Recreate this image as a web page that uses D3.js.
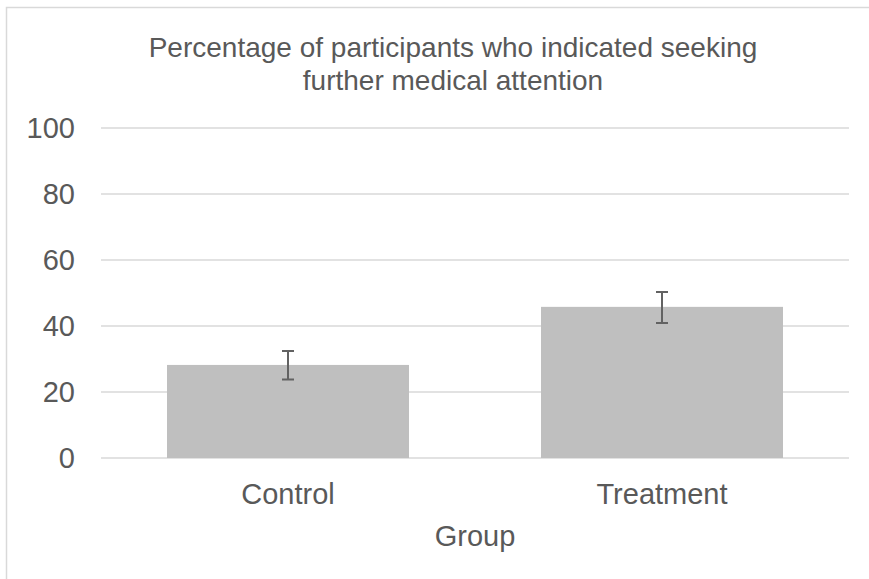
<!DOCTYPE html>
<meta charset="utf-8">
<style>

body {
  margin: 0;
  background: #fff;
}

text {
  font-family: "Liberation Sans", Arial, sans-serif;
  fill: #595959;
}

.grid line {
  stroke: #d9d9d9;
  stroke-width: 1.5px;
}

.bar {
  fill: #bfbfbf;
}

.err {
  stroke: #626262;
  stroke-width: 2px;
  fill: none;
}

</style>
<svg width="869" height="579"></svg>
<script src="https://cdn.jsdelivr.net/npm/d3@7"></script>
<script>

// data
var groups = ["Control", "Treatment"],
    percent = [28.2, 45.8],
    errUp = [32.4, 50.3],
    errDown = [23.8, 40.9],
    yTicks = [0, 20, 40, 60, 80, 100];

var titleLines = ["Percentage of participants who indicated seeking", "further medical attention"],
    xTitle = "Group";

var svg = d3.select("svg"),
    width = +svg.attr("width"),
    height = +svg.attr("height");

var margin = {top: 128, right: 20, bottom: 121, left: 101},
    plotW = 849 - margin.left,
    plotH = 458 - margin.top;

// chart area border (bottom is cut off in the picture)
svg.append("path")
    .attr("d", "M6.5," + height + "V7.5H" + width)
    .attr("fill", "none")
    .attr("stroke", "#d9d9d9")
    .attr("stroke-width", 1.5);

var x = d3.scaleBand()
    .domain(groups)
    .range([0, plotW])
    .paddingInner(0.353)
    .paddingOuter(0.1765);

var y = d3.scaleLinear()
    .domain([0, 100])
    .range([plotH, 0]);

var g = svg.append("g")
    .attr("transform", "translate(" + margin.left + "," + margin.top + ")");

g.append("g")
    .attr("class", "grid")
  .selectAll("line")
    .data(yTicks)
  .enter().append("line")
    .attr("x1", 0)
    .attr("x2", plotW)
    .attr("y1", function(d) { return y(d); })
    .attr("y2", function(d) { return y(d); });

g.append("g")
  .selectAll("text")
    .data(yTicks)
  .enter().append("text")
    .attr("x", -26)
    .attr("y", function(d) { return y(d); })
    .attr("dy", "0.36em")
    .attr("text-anchor", "end")
    .style("font-size", "29px")
    .text(function(d) { return d; });

g.selectAll(".bar")
    .data(percent)
  .enter().append("rect")
    .attr("class", "bar")
    .attr("x", function(d, i) { return x(groups[i]); })
    .attr("width", x.bandwidth())
    .attr("y", function(d) { return y(d); })
    .attr("height", function(d) { return y(0) - y(d); });

// error bars
g.selectAll(".err")
    .data(groups)
  .enter().append("path")
    .attr("class", "err")
    .attr("d", function(d, i) {
      var cx = x(d) + x.bandwidth() / 2,
          t = y(errUp[i]),
          b = y(errDown[i]),
          w = 6;
      return "M" + (cx - w) + "," + t + "H" + (cx + w)
          + "M" + cx + "," + t + "V" + b
          + "M" + (cx - w) + "," + b + "H" + (cx + w);
    });

g.selectAll(".xlab")
    .data(groups)
  .enter().append("text")
    .attr("x", function(d) { return x(d) + x.bandwidth() / 2; })
    .attr("y", plotH + 46)
    .attr("text-anchor", "middle")
    .style("font-size", "29px")
    .text(function(d) { return d; });

svg.append("text")
    .attr("x", margin.left + plotW / 2)
    .attr("y", 546)
    .attr("text-anchor", "middle")
    .style("font-size", "29px")
    .text(xTitle);

svg.append("g")
  .selectAll("text")
    .data(titleLines)
  .enter().append("text")
    .attr("x", 453)
    .attr("y", function(d, i) { return 57 + i * 33; })
    .attr("text-anchor", "middle")
    .style("font-size", "28px")
    .text(function(d) { return d; });

</script>
